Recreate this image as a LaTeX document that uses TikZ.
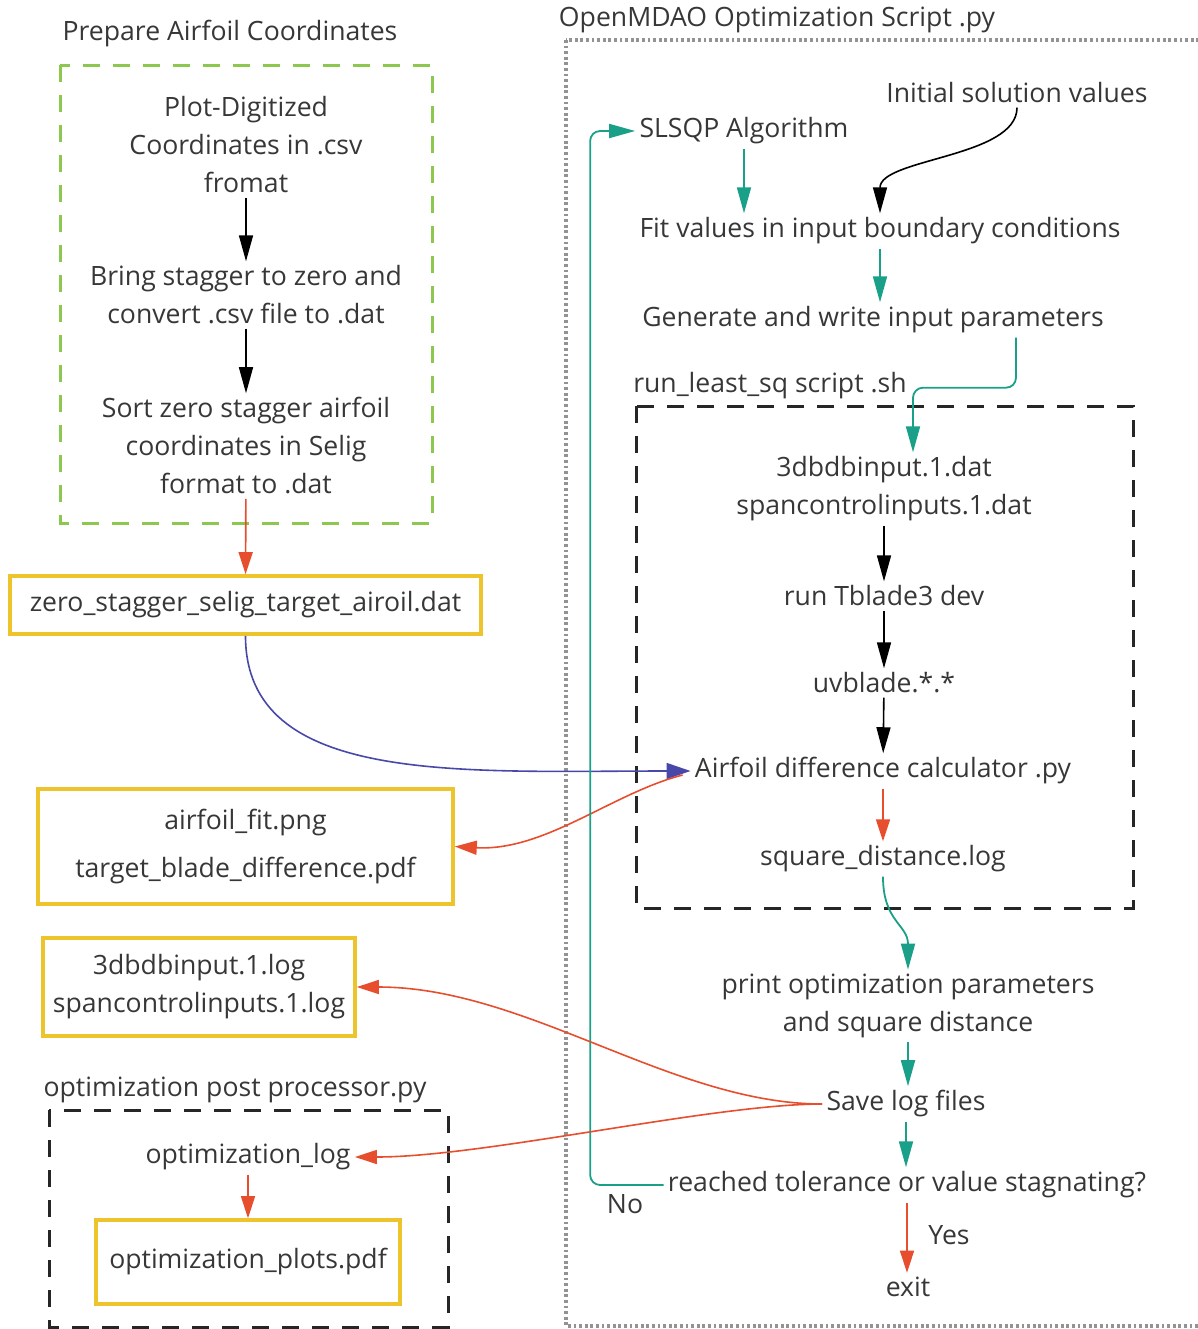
\documentclass[tikz,border=0pt]{standalone}
\usepackage{fontspec}
\setmainfont{Open Sans}
\usepackage{tikz}
\usetikzlibrary{arrows.meta, calc}
\usepackage{xcolor}

\definecolor{flowteal}{RGB}{26,160,136}
\definecolor{flowred}{RGB}{230,78,45}
\definecolor{flowblue}{RGB}{72,72,170}
\definecolor{fileyellow}{RGB}{238,196,45}
\definecolor{prepgreen}{RGB}{140,200,80}
\definecolor{txtgray}{RGB}{55,55,55}

\begin{document}
\begin{tikzpicture}[x=0.5pt, y=-0.5pt,
    every node/.style={font=\fontsize{13.3}{19}\selectfont, text=txtgray, inner sep=2pt, align=center},
    filebox/.style={draw=fileyellow, line width=1.8pt},
    blackarrow/.style={draw=black, line width=0.8pt, -{Triangle[length=13pt, width=7pt]}},
    tealarrow/.style={draw=flowteal, line width=0.9pt, -{Triangle[length=13pt, width=7pt]}},
    redarrow/.style={draw=flowred, line width=0.8pt, -{Triangle[length=11pt, width=7pt]}},
    bluearrow/.style={draw=flowblue, line width=0.8pt, -{Triangle[length=12pt, width=8pt]}},
    groupframe/.style={line width=1.5pt, dash pattern=on 8.5pt off 6.5pt}]

    \useasboundingbox (0,0) rectangle (1198,1329);

    % Group frames
    \draw[groupframe, prepgreen] (60,65) rectangle (432,523);
    \draw[groupframe, black!85] (636,406) rectangle (1133,908);
    \draw[groupframe, black!85] (49,1110) rectangle (448,1327);
    \draw[gray!85, line width=1.6pt, dash pattern=on 1.4pt off 1.4pt] (566,40) rectangle (1215,1326);

    % Prepare airfoil coordinates (left column)
    \node (preptitle) at (230,34)  {Prepare Airfoil Coordinates};
    \node (digit)     at (246,145) {Plot-Digitized\\Coordinates in .csv\\fromat};
    \node (bring)     at (246,295) {Bring stagger to zero and\\convert .csv file to .dat};
    \node (sortz)     at (246,446) {Sort zero stagger airfoil\\coordinates in Selig\\format to .dat};

    % Output files
    \node[filebox, minimum width=235.5pt, minimum height=29pt] (zss) at (245.5,605) {zero\_stagger\_selig\_target\_airoil.dat};
    \node[filebox, minimum width=207.5pt, minimum height=57.5pt] (fitfiles) at (245.5,846.5) {airfoil\_fit.png\\[5pt]target\_blade\_difference.pdf};
    \node[filebox, minimum width=156pt, minimum height=49pt] (logfiles) at (199,987) {3dbdbinput.1.log\\spancontrolinputs.1.log};

    % Post processor
    \node (posttitle) at (235,1090) {optimization post processor.py};
    \node (optlog)    at (248,1157) {optimization\_log};
    \node[filebox, minimum width=152pt, minimum height=42pt] (plots) at (248,1262) {optimization\_plots.pdf};

    % OpenMDAO script (right column)
    \node (mdaotitle) at (777,20)   {OpenMDAO Optimization Script .py};
    \node (initval)   at (1017,93)  {Initial solution values};
    \node (slsqp)     at (744,131)  {SLSQP Algorithm};
    \node (fitval)    at (880,231)  {Fit values in input boundary conditions};
    \node (genpar)    at (873,320)  {Generate and write input parameters};
    \node (runtitle)  at (770,386)  {run\_least\_sq script .sh};
    \node (inputs)    at (884,489)  {3dbdbinput.1.dat\\spancontrolinputs.1.dat};
    \node (tblade)    at (884,596)  {run Tblade3 dev};
    \node (uvblade)   at (884,683)  {uvblade.*.*};
    \node (adiff)     at (883,771)  {Airfoil difference calculator .py};
    \node (sqdist)    at (883,859)  {square\_distance.log};
    \node (printopt)  at (908,1006) {print optimization parameters\\and square distance};
    \node (savelog)   at (906,1104) {Save log files};
    \node (reached)   at (907,1185) {reached tolerance or value stagnating?};
    \node (exitn)     at (908,1287) {exit};
    \node (nolbl)     at (625,1204) {No};
    \node (yeslbl)    at (949,1235) {Yes};

    % Connectors
    \draw[blackarrow] (digit) -- (bring);
    \draw[blackarrow] (bring) -- (sortz);
    \draw[redarrow] (sortz) -- (zss);
    \draw[bluearrow] (zss.south) .. controls +(0,150) and +(-230,0) .. (adiff.west);
    \draw[redarrow] ($(adiff.west)+(-8,4)$) .. controls +(-70,18) and +(90,5) .. (fitfiles.east);

    \draw[tealarrow] (slsqp.south) -- (slsqp.south |- fitval.north);
    \draw[blackarrow] (initval.south) .. controls +(0,50) and +(0,-55) .. (fitval.north);
    \draw[tealarrow] (fitval.south) -- (fitval.south |- genpar.north);
    \draw[tealarrow, rounded corners=5pt] ($(genpar.south)+(143,0)$) -- ++(0,50) -| ($(inputs.north)+(29,0)$);
    \draw[blackarrow] (inputs) -- (tblade);
    \draw[blackarrow] (tblade) -- (uvblade);
    \draw[blackarrow] (uvblade) -- (adiff);
    \draw[redarrow] (adiff) -- (sqdist);
    \draw[tealarrow] (sqdist.south) .. controls +(0,45) and +(0,-45) .. (printopt.north);
    \draw[tealarrow] (printopt.south) -- (printopt.south |- savelog.north);
    \draw[tealarrow] (savelog.south) -- (savelog.south |- reached.north);
    \draw[redarrow] (reached.south) -- (reached.south |- exitn.north);
    \draw[tealarrow, rounded corners=5pt] (reached.west) -| ($(slsqp.west)+(-45,0)$) -- (slsqp.west);

    \draw[redarrow] (savelog.west) .. controls +(-150,0) and +(170,0) .. (logfiles.east);
    \draw[redarrow] (savelog.west) .. controls +(-110,0) and +(130,0) .. (optlog.east);
    \draw[redarrow] (optlog) -- (plots);
\end{tikzpicture}
\end{document}
